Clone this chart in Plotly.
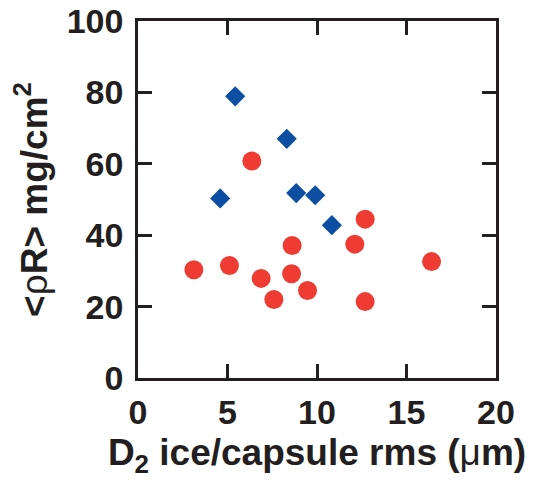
import plotly.graph_objects as go

# blue diamonds
blue_x = [5.43, 8.31, 4.59, 8.84, 9.90, 10.83]
blue_y = [78.9, 67.0, 50.3, 51.8, 51.2, 42.8]

# red circles
red_x = [6.36, 12.69, 12.11, 8.61, 3.12, 5.11, 16.40, 6.88, 8.58, 7.59, 9.47, 12.69]
red_y = [60.8, 44.5, 37.5, 37.1, 30.3, 31.5, 32.6, 27.9, 29.2, 22.0, 24.5, 21.4]

x_ticks = [0, 5, 10, 15, 20]
y_ticks = [0, 20, 40, 60, 80, 100]

ink = "#231f20"

fig = go.Figure()
fig.add_trace(go.Scatter(
    x=red_x, y=red_y, mode="markers",
    marker=dict(symbol="circle", size=19, color="#ee3c33", line=dict(width=0)),
))
fig.add_trace(go.Scatter(
    x=blue_x, y=blue_y, mode="markers",
    marker=dict(symbol="diamond", size=15.5, color="#0b4ea2", line=dict(width=0)),
))

axis_common = dict(
    showline=True, linewidth=2.5, linecolor=ink,
    mirror="ticks", ticks="inside", ticklen=14, tickwidth=3, tickcolor=ink,
    showgrid=False, zeroline=False, ticklabeloverflow="allow",
    tickfont=dict(family="Liberation Sans", size=34, color=ink, weight="bold"),
)

fig.update_xaxes(
    range=[0, 20], tickvals=x_ticks, ticklabelstandoff=2,
    title=dict(
        text="D<sub>2</sub> ice/capsule rms (<span style='font-weight:normal'>\u03bc</span>m)",
        font=dict(family="Liberation Sans", size=37, color=ink, weight="bold"),
        standoff=10,
    ),
    **axis_common,
)
fig.update_yaxes(
    range=[0, 100], tickvals=y_ticks, ticklabelstandoff=5,
    title=dict(
        text="&lt;<span style='font-weight:normal'>\u03c1</span>R&gt; mg/cm<sup>2</sup>",
        font=dict(family="Liberation Sans", size=37, color=ink, weight="bold"),
        standoff=12,
    ),
    **axis_common,
)

# page body adds an 8px offset, so the figure is drawn 8px smaller
fig.update_layout(
    width=533, height=478,
    margin=dict(l=130, r=45, t=13, b=108, autoexpand=False),
    plot_bgcolor="white", paper_bgcolor="white",
    showlegend=False,
)
fig.write_html("out.html")
